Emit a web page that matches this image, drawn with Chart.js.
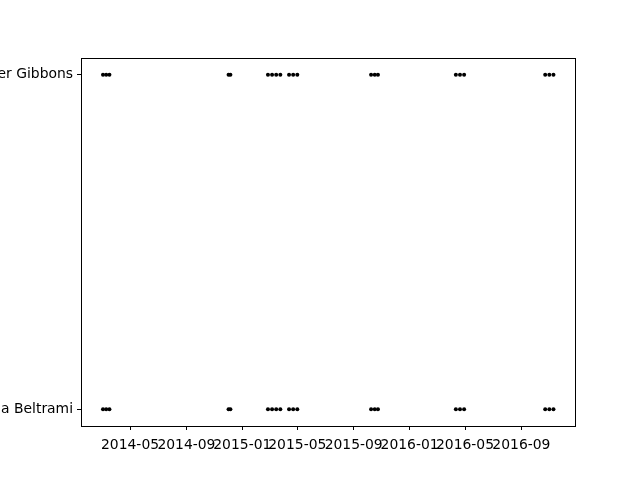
<!DOCTYPE html>
<html>
<head>
<meta charset="utf-8">
<script src="https://cdn.jsdelivr.net/npm/chart.js@4.4.1/dist/chart.umd.min.js"></script>
<style>
html,body{margin:0;padding:0;background:#fff;}
#wrap{width:640px;height:480px;}
</style>
</head>
<body>
<div id="wrap"><canvas id="c" width="640" height="480"></canvas></div>
<script>
// Data
const people = ["Maria Beltrami", "Peter Gibbons"];
const eventDates = [
  "2014-03-03","2014-03-10","2014-03-17",
  "2014-12-02","2014-12-06",
  "2015-02-26","2015-03-07","2015-03-16","2015-03-25",
  "2015-04-13","2015-04-22","2015-05-01",
  "2015-10-09","2015-10-17","2015-10-24",
  "2016-04-11","2016-04-20","2016-04-29",
  "2016-10-23","2016-11-01","2016-11-10"
];
const tickMonths = ["2014-05","2014-09","2015-01","2015-05","2015-09","2016-01","2016-05","2016-09"];
const xMinDate = "2014-01-14";
const xMaxDate = "2016-12-27";

const toMs = s => { const p = s.split("-").map(Number); return Date.UTC(p[0], p[1]-1, p[2] || 1); };
const fmt = v => { const d = new Date(v); return d.getUTCFullYear() + "-" + String(d.getUTCMonth()+1).padStart(2,"0"); };

const datasets = people.map((name, i) => ({
  label: name,
  data: eventDates.map(d => ({x: toMs(d), y: i})),
  showLine: false,
  pointRadius: 2,
  pointHoverRadius: 2,
  pointBackgroundColor: "#000",
  pointBorderColor: "#000",
  pointBorderWidth: 0
}));

const frame = {
  id: "frame",
  afterDraw(chart) {
    const a = chart.chartArea, ctx = chart.ctx;
    ctx.save();
    ctx.strokeStyle = "#000";
    ctx.lineWidth = 1;
    ctx.strokeRect(Math.round(a.left)+0.5, Math.round(a.top)+0.5, Math.round(a.right-a.left), Math.round(a.bottom-a.top));
    ctx.restore();
  }
};

const font = {family: "DejaVu Sans", size: 13.9};

new Chart(document.getElementById("c"), {
  type: "scatter",
  data: {datasets},
  plugins: [frame],
  options: {
    responsive: false,
    animation: false,
    events: [],
    layout: {padding: {left: 0, right: 65, top: 58, bottom: 0}},
    plugins: {legend: {display: false}, tooltip: {enabled: false}},
    scales: {
      x: {
        type: "linear",
        min: toMs(xMinDate),
        max: toMs(xMaxDate),
        afterBuildTicks: s => { s.ticks = tickMonths.map(m => ({value: toMs(m)})); },
        afterFit: s => { s.height = 54; },
        ticks: {callback: v => fmt(v), color: "#000", font, maxRotation: 0, autoSkip: false, padding: 7},
        grid: {display: true, drawOnChartArea: false, drawTicks: true, tickLength: 4, color: "#000"},
        border: {display: false}
      },
      y: {
        type: "linear",
        min: -0.05,
        max: 1.05,
        afterBuildTicks: s => { s.ticks = people.map((p, i) => ({value: i})); },
        afterFit: s => { s.width = 81; },
        ticks: {callback: v => people[v], color: "#000", font, padding: 4},
        grid: {display: true, drawOnChartArea: false, drawTicks: true, tickLength: 4, color: "#000"},
        border: {display: false}
      }
    }
  }
});
</script>
</body>
</html>
